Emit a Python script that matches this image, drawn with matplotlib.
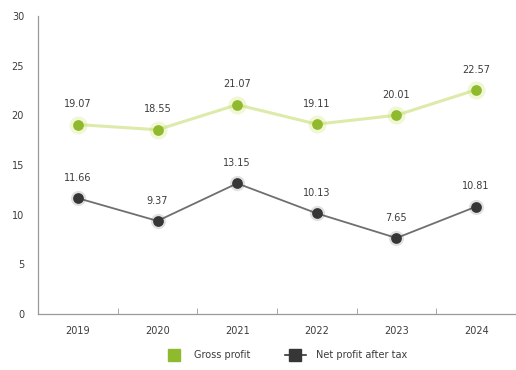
import numpy as np
import matplotlib
matplotlib.use("Agg")
import matplotlib.pyplot as plt
from matplotlib.lines import Line2D

years = ["2019", "2020", "2021", "2022", "2023", "2024"]
gross_profit = [19.07, 18.55, 21.07, 19.11, 20.01, 22.57]
net_profit = [11.66, 9.37, 13.15, 10.13, 7.65, 10.81]
y_ticks = [0, 5, 10, 15, 20, 25, 30]

GREEN = "#8fba2e"
GREEN_LINE = "#dcebaa"
DARK = "#363636"
GRAY_LINE = "#6f6f6f"
TEXT = "#3c3c3c"

fig = plt.figure(figsize=(5.16, 3.70), dpi=100, facecolor="white")
ax = fig.add_axes([38 / 516, 56 / 370, 478 / 516, 298 / 370])

x = np.arange(len(years))

# gross profit: pale line, green dots with a soft halo
ax.plot(x, gross_profit, color=GREEN_LINE, lw=2.2, zorder=2)
ax.scatter(x, gross_profit, s=170, color="#c8e05a", alpha=0.25, lw=0, zorder=3)
ax.scatter(x, gross_profit, s=60, color=GREEN, lw=0, zorder=4)

# net profit after tax
ax.plot(x, net_profit, color=GRAY_LINE, lw=1.3, zorder=2)
ax.scatter(x, net_profit, s=120, color=DARK, alpha=0.15, lw=0, zorder=3)
ax.scatter(x, net_profit, s=60, color=DARK, lw=0, zorder=4)

for xi, v in zip(x, gross_profit):
    ax.annotate(f"{v:.2f}", (xi, v), xytext=(0, 11), textcoords="offset points",
                ha="center", va="bottom", fontsize=7, color=TEXT)
for xi, v in zip(x, net_profit):
    ax.annotate(f"{v:.2f}", (xi, v), xytext=(0, 11), textcoords="offset points",
                ha="center", va="bottom", fontsize=7, color=TEXT)

ax.set_xlim(-0.5, 5.5)
ax.set_ylim(0, 30)
ax.set_yticks(y_ticks)
ax.set_xticks(x)
ax.set_xticklabels(years)
ax.set_xticks(np.arange(0.5, 5.5, 1.0), minor=True)
ax.tick_params(axis="x", which="major", length=0, pad=9, labelsize=7, labelcolor=TEXT)
ax.tick_params(axis="x", which="minor", length=4, color="#999999", direction="in")
ax.tick_params(axis="y", length=0, pad=10, labelsize=7, labelcolor=TEXT)

for s in ["top", "right"]:
    ax.spines[s].set_visible(False)
for s in ["left", "bottom"]:
    ax.spines[s].set_color("#999999")
    ax.spines[s].set_linewidth(0.9)

handles = [
    Line2D([], [], marker="s", ls="none", color=GREEN, markersize=9, label="Gross profit"),
    Line2D([], [], marker="s", ls="-", color=DARK, markersize=9, lw=1.2, label="Net profit after tax"),
]
fig.legend(handles=handles, loc="center", bbox_to_anchor=(285 / 516, 15 / 370), ncol=2,
           frameon=False, fontsize=7, labelcolor=TEXT, handlelength=2.2,
           columnspacing=3.5, handletextpad=1.0)

fig.savefig("out.png", dpi=100, facecolor="white")
